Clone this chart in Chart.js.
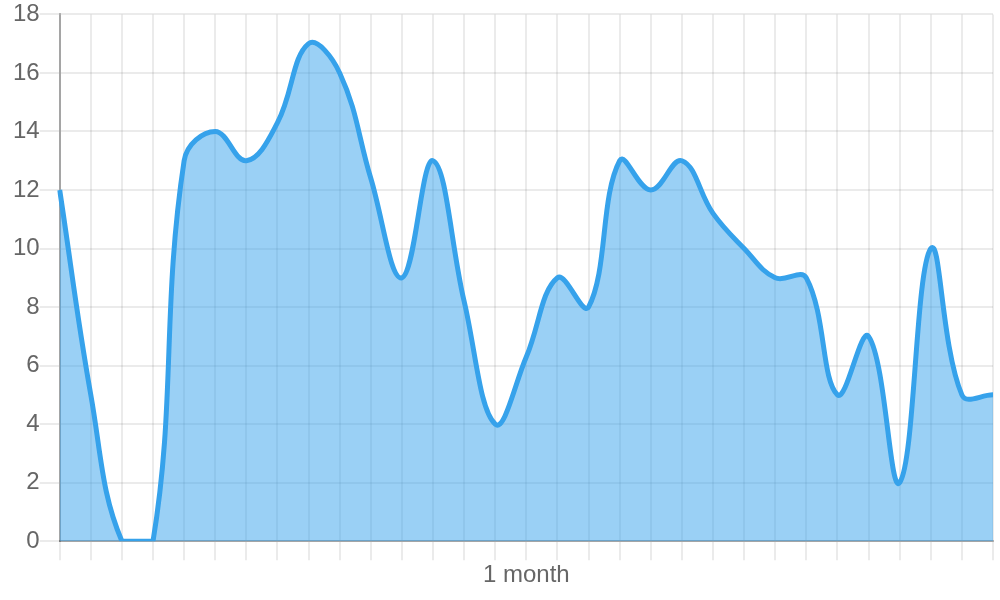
<!DOCTYPE html>
<html>
<head>
<meta charset="utf-8">
<script src="https://cdn.jsdelivr.net/npm/chart.js@4/dist/chart.umd.min.js"></script>
<style>
  html, body { margin: 0; padding: 0; background: #fff; }
  #wrap { width: 1000px; height: 600px; }
</style>
</head>
<body>
<div id="wrap"><canvas id="lineChart"></canvas></div>
<script>
// one value per day, 31 days
const days = Array.from({ length: 31 }, (_, i) => 'Day ' + (i + 1));
const values = [12, 5, 0, 0, 13, 14, 13, 14.3, 17, 16, 12.4, 9, 13, 8.2, 4, 6.3,
                9, 8, 13, 12, 13, 11.2, 10, 9, 9, 5, 7, 2, 10, 5, 5];
const xTitle = '1 month';

Chart.defaults.font.family = '"Liberation Sans", Arial, sans-serif';
Chart.defaults.font.size = 24;
Chart.defaults.color = '#666';

const ctx = document.getElementById('lineChart').getContext('2d');

window.lineChart = new Chart(ctx, {
    type: 'line',
    data: {
        labels: days,
        datasets: [{
            label: 'Value',
            data: values,
            borderColor: 'rgb(54, 162, 235)',
            backgroundColor: 'rgba(54, 162, 235, 0.5)',
            borderWidth: 5,
            pointRadius: 0,
            tension: 0.4,
            fill: 'origin'
        }]
    },
    options: {
        responsive: true,
        maintainAspectRatio: false,
        animation: false,
        layout: {
            padding: { left: 13, right: 7, top: 0, bottom: 7 }
        },
        plugins: {
            legend: { display: false },
            tooltip: { enabled: false }
        },
        scales: {
            x: {
                grid: {
                    color: 'rgba(0, 0, 0, 0.08)',
                    lineWidth: 2,
                    tickLength: 19
                },
                border: { color: 'rgba(0, 0, 0, 0.3)', width: 2 },
                ticks: { display: false },
                title: {
                    display: true,
                    text: xTitle,
                    padding: { top: 1, bottom: 3 }
                }
            },
            y: {
                min: 0,
                max: 18,
                grid: {
                    color: 'rgba(0, 0, 0, 0.08)',
                    lineWidth: 2,
                    tickLength: 20
                },
                border: { color: 'rgba(0, 0, 0, 0.3)', width: 2 },
                ticks: { stepSize: 2, padding: 0 }
            }
        }
    }
});
</script>
</body>
</html>
